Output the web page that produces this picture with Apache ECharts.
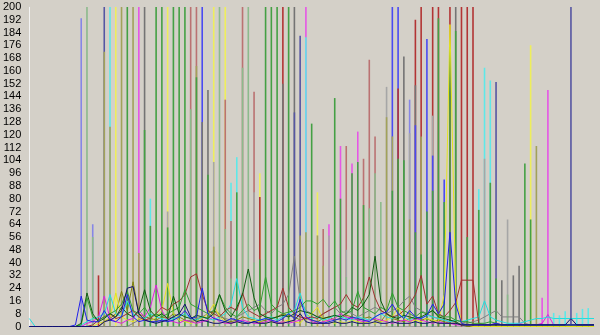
<!DOCTYPE html>
<html><head><meta charset="utf-8">
<script src="https://cdn.jsdelivr.net/npm/echarts@6/dist/echarts.min.js"></script>
<style>html,body{margin:0;padding:0;background:#d4d0c8;}#c{width:600px;height:335px;}</style>
</head><body><div id="c"></div>
<script>
// ---- y-axis ticks ----
const yMin = 0, yMax = 200, yStep = 8;
const xMin = 0, xMax = 98;

// ---- vertical bar series: [index, value] ----
const lightBlueBars = [[9,193],[11,64],[66,142]];
const blueBars = [[30,200],[63,200],[64,200],[67,126],[69,180],[70,107],[72,92]];
const navyBars = [[13,200],[46,134],[47,182],[81,153],[94,200]];
const cyanBars = [[14,200],[21,80],[35,90],[36,106],[48,181],[78,86],[79,162],[80,154],[91,8.5],[92,7],[93,9.5],[95,8.5],[96,11],[97,11.5]];
const yellowBars = [[15,200],[24,200],[32,200],[34,200],[40,96],[50,84],[87,176]];
const oliveBars = [[13,172],[14,125],[16,200],[18,200],[19,46],[29,163],[32,50],[47,57],[48,59],[50,57],[51,38],[62,131],[63,119],[66,67],[68,119],[88,113]];
const greenBars = [[17,200],[20,123],[21,63],[22,200],[23,200],[24,62],[25,200],[26,200],[27,200],[29,156],[31,95],[36,84],[40,42],[41,200],[42,200],[43,200],[45,200],[49,127],[53,143],[54,80],[56,96],[57,103],[58,76],[63,85],[64,105],[65,104],[67,59],[68,45],[69,72],[70,85],[71,193],[72,78],[73,176],[74,185],[76,56],[78,73],[80,90],[81,30],[86,102],[87,67]];
const lightGreenBars = [[10,200],[11,56],[28,136],[33,200],[34,61],[35,30],[37,162],[38,200],[39,40],[55,31],[59,74],[60,96],[61,78],[83,20]];
const magentaBars = [[19,200],[48,200],[52,64],[54,113],[56,102],[57,122],[89,18],[90,148]];
const darkGrayBars = [[20,200],[30,128],[31,148],[44,152],[46,200],[65,169],[67,151],[74,200],[82,29],[84,32],[85,38]];
const lightGrayBars = [[24,72],[32,103],[39,84],[52,57],[55,48],[62,150],[66,121],[70,132],[79,105],[83,67]];
const rosyBars = [[28,200],[29,200],[34,142],[35,66],[37,200],[39,147],[51,61],[55,113],[58,105],[59,167],[60,119]];
const redBars = [[12,32],[40,81],[44,200],[64,149],[67,192],[68,200],[70,200],[71,200],[73,200],[75,200],[76,200],[77,200]];

// ---- line series: value at each index 0..98 ----
const blueLine = [0,0,0,0,0,0,0,0,1,19, 4,3,3,10,4,3,6,20,6,3, 4,3,3,4,3,4,6,10,5,6, 24,8,5,4,3,5,4,3,2,3, 4,5,4,3,5,8,5,17,6,4, 3,2,3,4,5,4,6,5,4,3, 6,8,9,14,8,5,10,6,5,7, 14,8,14,59,14,2,1,1,1,1, 1,2,1,1,1,1,1,1,1,1, 1,1,1,1,1,1,1,1,1];
const darkGreenLine = [0,0,0,0,0,0,0,0,0,2, 21,8,3,5,8,6,12,8,6,10, 23,10,6,8,5,19,8,6,5,7, 6,5,8,20,10,6,12,20,36,18, 8,6,5,6,7,6,8,10,9,8, 6,5,6,7,6,8,12,10,14,20, 44,16,8,6,5,7,6,5,6,8, 10,6,5,4,3,1,1,1,1,1, 1,1,1,1,1,1,1,1,1,1, 1,1,1,1,1,1,1,1,1];
const greenLine = [0,0,0,0,0,0,0,0,0,1, 18,6,4,6,8,10,14,22,10,8, 12,6,8,6,8,10,12,23,14,12, 10,8,10,20,12,8,6,10,14,10, 12,31,14,10,8,9,10,12,16,16, 14,17,12,16,10,8,10,22,12,10, 8,12,10,21,12,10,8,6,9,8, 10,7,6,6,4,3,3,2,2,2, 3,2,1,1,1,1,1,1,1,1, 1,1,1,1,1,1,1,1,1];
const magentaLine = [0,0,0,0,0,0,0,0,0,0, 2,3,6,19,5,3,2,4,5,10, 6,12,26,10,4,3,2,4,3,2, 3,4,6,3,2,2,3,4,3,2, 2,3,4,2,3,2,3,4,6,3, 2,3,4,5,8,6,5,4,3,4, 5,4,3,2,3,4,3,5,4,3, 2,3,2,2,1,1,1,1,1,1, 1,2,1,1,1,2,1,1,1,2, 7.5,1,1,1,1,1,1,1,1];
const cyanLine = [5,0,0,0,0,0,0,0,0,1, 3,5,6,8,20,8,6,16,8,6, 5,8,6,5,4,5,6,8,5,4, 6,5,4,6,8,14,30,12,6,5, 4,5,6,4,6,8,10,21,8,5, 6,4,5,7,6,5,4,6,5,4, 6,8,6,5,7,6,4,6,5,7, 6,5,4,3,4,3,4,5,6,16, 6,4,3,2,2,2,3,4,5,5, 6,5,5,5,5,5,5,5,5];
const yellowLine = [0,0,0,0,0,0,0,0,0,0, 0,0,2,3,6,21,6,4,3,5, 4,3,6,10,27,8,4,3,2,3, 5,8,14,6,3,2,3,2,3,4, 3,2,3,2,3,4,3,2,6,8, 12,4,3,2,3,2,4,3,2,3, 2,3,4,6,12,5,3,4,3,5, 4,3,20,189,20,2,1,0,0,0, 0,0,0,0,0,0,0,0,0,0, 0,0,0,0,0,0,0,0,0];
const oliveLine = [0,0,0,0,0,0,0,0,0,0, 0,0,0,3,5,8,22,10,28,8, 6,5,4,6,5,8,6,4,3,4, 6,5,10,8,4,3,4,6,5,4, 3,4,5,6,8,7,6,4,5,4, 3,5,6,4,5,7,6,4,5,6, 4,3,8,5,4,3,5,6,4,5, 3,4,3,2,2,1,0,0,0,0, 0,0,0,0,0,0,0,0,0,0, 0,0,0,0,0,0,0,0,0];
const navyLine = [0,0,0,0,0,0,0,0,0,0, 0,0,0,3,4,6,10,24,25,8, 4,3,2,3,4,6,8,14,6,3, 4,3,2,2,3,2,3,2,2,3, 2,2,3,2,2,3,4,8,3,2, 2,2,2,3,2,2,3,2,2,2, 3,2,2,3,2,2,2,3,2,2, 3,2,2,2,2,1,1,1,1,1, 1,1,1,1,1,1,1,1,1,1, 1,1,1,1,5,1,1,1,1];
const brownLine = [0,0,0,0,0,0,0,0,0,0, 0,1,4,6,8,5,6,8,10,6, 4,5,8,12,10,14,16,20,31,33, 20,10,8,6,10,12,10,21,10,8, 6,8,10,12,24,12,8,6,5,6, 5,8,10,12,14,20,14,12,18,31, 18,10,8,6,7,10,14,20,32,14, 19,8,6,10,15,29,29,29,2,1, 1,1,1,1,1,1,1,1,1,1, 1,1,1,1,1,1,1,1,1];
const grayLine = [0,0,0,0,0,0,0,0,0,0, 0,0,0,0,0,0,0,0,2,4, 6,5,4,3,5,6,4,3,4,5, 6,8,10,6,5,4,6,8,10,12, 14,10,8,12,14,20,44,16,10,8, 6,8,10,12,8,10,8,6,8,10, 12,10,8,10,12,16,19,12,10,8, 6,5,4,3,4,3,2,3,4,6, 8,10,6,6,6,6,2,1,1,1, 1,1,1,1,1,1,1,1,1];

// ---- styles (kept apart from data) ----
const barSets = [
  {data: lightBlueBars, color: '#8686e6'},
  {data: blueBars, color: '#4a4af2'},
  {data: navyBars, color: '#5656a2'},
  {data: cyanBars, color: '#5ee8e8'},
  {data: yellowBars, color: '#eeee5c'},
  {data: oliveBars, color: '#a2a25a'},
  {data: greenBars, color: '#44a044'},
  {data: lightGreenBars, color: '#8cba8c'},
  {data: magentaBars, color: '#e656e6'},
  {data: darkGrayBars, color: '#747474'},
  {data: lightGrayBars, color: '#a6a6a6'},
  {data: rosyBars, color: '#ba7272'},
  {data: redBars, color: '#b23434'}
];
const lineSets = [
  {data: grayLine, color: '#808080'},
  {data: oliveLine, color: '#808010'},
  {data: yellowLine, color: '#e4e420'},
  {data: magentaLine, color: '#e020e0'},
  {data: cyanLine, color: '#20dede'},
  {data: brownLine, color: '#a03030'},
  {data: greenLine, color: '#30a030'},
  {data: darkGreenLine, color: '#105a10'},
  {data: blueLine, color: '#2020e8'},
  {data: navyLine, color: '#101070'}
];

// rank bars at each index so shorter ones are drawn over taller ones
const byIdx = {};
barSets.forEach(s => s.data.forEach(([i, v]) => { (byIdx[i] = byIdx[i] || []).push(v); }));
let maxRank = 0;
const ranked = barSets.map(s => s.data.map(([i, v]) => {
  const r = byIdx[i].filter(w => w > v).length;
  maxRank = Math.max(maxRank, r);
  return {i, v, r};
}));
const series = [];
for (let r = 0; r <= maxRank; r++) {
  barSets.forEach((s, k) => {
    const d = ranked[k].filter(p => p.r === r).map(p => [p.i, p.v]);
    if (!d.length) return;
    series.push({type: 'bar', data: d, barWidth: 1.6, barGap: '-100%', itemStyle: {color: s.color}, silent: true, z: 2});
  });
}
lineSets.forEach(s => {
  series.push({type: 'line', data: s.data.map((v, i) => [i, v]), showSymbol: false, lineStyle: {width: 1, color: s.color}, itemStyle: {color: s.color}, z: 3, silent: true});
});

const chart = echarts.init(document.getElementById('c'), null, {renderer: 'canvas'});
chart.setOption({
  animation: false,
  backgroundColor: '#d4d0c8',
  grid: {left: 27, right: 6, top: 7, bottom: 8.5},
  xAxis: [
    {type: 'value', min: xMin, max: xMax, position: 'bottom', offset: 1.5,
     axisLine: {show: true, lineStyle: {color: '#f4f4f4', width: 1}}, axisTick: {show: false}, axisLabel: {show: false}, splitLine: {show: false}},
    {type: 'value', min: xMin, max: xMax, position: 'top', offset: 0.5,
     axisLine: {show: true, lineStyle: {color: '#a0a0a0', width: 1}}, axisTick: {show: false}, axisLabel: {show: false}, splitLine: {show: false}}
  ],
  yAxis: [
    {type: 'value', min: yMin, max: yMax, interval: yStep, position: 'left',
     axisLine: {show: true, lineStyle: {color: '#a0a0a0'}}, axisTick: {show: false},
     axisLabel: {color: '#000', fontSize: 11, fontFamily: 'Liberation Sans', margin: 8}, splitLine: {show: false}},
    {type: 'value', min: yMin, max: yMax, interval: yStep, position: 'right',
     axisLine: {show: true, lineStyle: {color: '#f4f4f4'}}, axisTick: {show: false}, axisLabel: {show: false}, splitLine: {show: false}}
  ],
  series: series
});
</script></body></html>
